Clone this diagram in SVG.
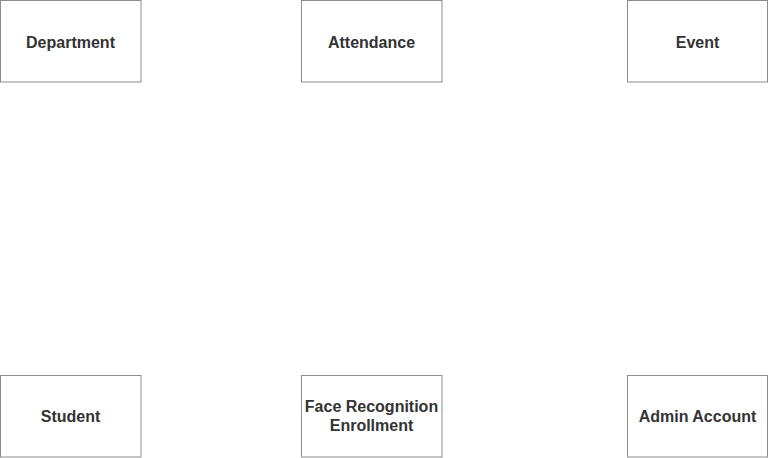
<svg xmlns="http://www.w3.org/2000/svg" width="768" height="458" viewBox="0 0 768 458">
<style>
.box{fill:#ffffff;stroke:#8c8c8c;stroke-width:1}
.lbl{font-family:"Liberation Sans",Arial,sans-serif;font-size:16px;font-weight:bold;fill:#333333;text-anchor:middle;dominant-baseline:central}
</style>
<rect width="768" height="458" fill="#ffffff"/>
<g id="connectors"></g>
<g id="department"><rect class="box" x="0.5" y="0.5" width="140.5" height="81.5"/><text class="lbl" x="70.5" y="42">Department</text></g>
<g id="attendance"><rect class="box" x="301.5" y="0.5" width="140.5" height="81.5"/><text class="lbl" x="371.5" y="42">Attendance</text></g>
<g id="event"><rect class="box" x="627.5" y="0.5" width="140" height="81.5"/><text class="lbl" x="697.5" y="42">Event</text></g>
<g id="student"><rect class="box" x="0.5" y="375.5" width="140.5" height="81.5"/><text class="lbl" x="70.5" y="416">Student</text></g>
<g id="face-recognition-enrollment"><rect class="box" x="301.5" y="375.5" width="140.5" height="81.5"/><text class="lbl" x="371.5" y="406.5">Face Recognition</text><text class="lbl" x="371.5" y="425.5">Enrollment</text></g>
<g id="admin-account"><rect class="box" x="627.5" y="375.5" width="140" height="81.5"/><text class="lbl" x="697.5" y="416">Admin Account</text></g>
</svg>
